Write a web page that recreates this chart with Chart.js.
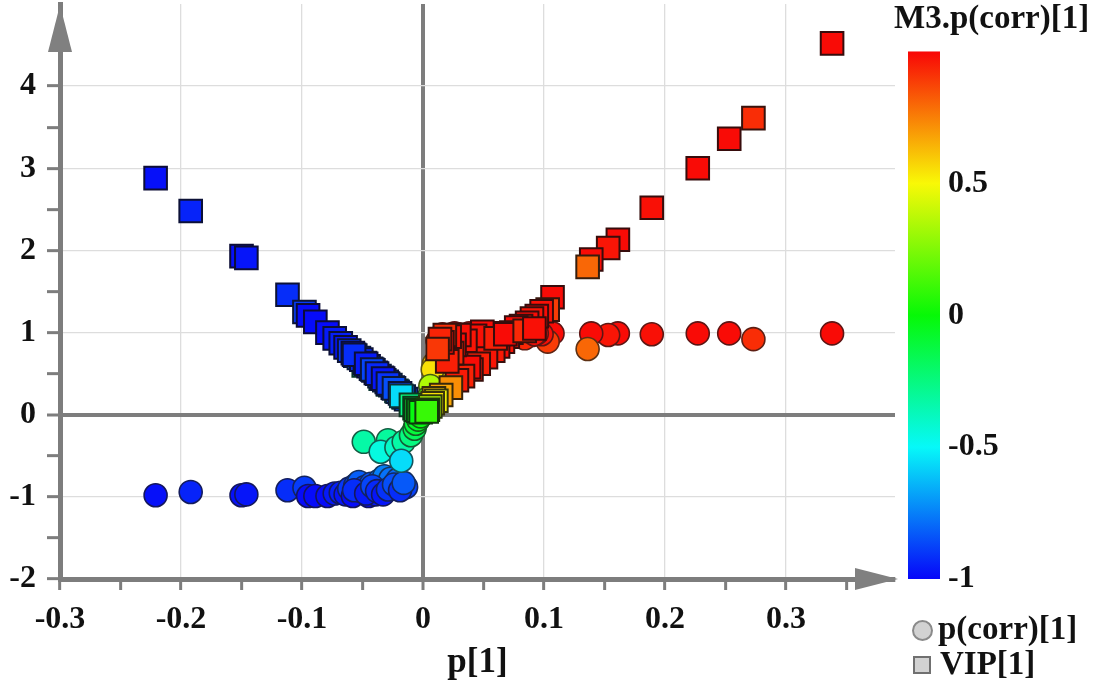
<!DOCTYPE html>
<html>
<head>
<meta charset="utf-8">
<script src="https://cdn.jsdelivr.net/npm/chart.js@4/dist/chart.umd.min.js"></script>
<style>
html,body{margin:0;padding:0;background:#fff;}
#wrap{position:relative;width:1108px;height:687px;overflow:hidden;}
#c{position:absolute;left:0;top:0;}
.t{position:absolute;font-family:"Liberation Serif","Times New Roman",serif;font-weight:bold;color:#111;white-space:nowrap;line-height:1;}
.mk{position:absolute;box-sizing:border-box;background:#d2d2d2;}
</style>
</head>
<body>
<div id="wrap">
<canvas id="c" width="1108" height="687"></canvas>
<div class="t" id="cbTitle" style="left:894px;top:1px;font-size:33px;">M3.p(corr)[1]</div>
<div class="mk" style="left:912px;top:620px;width:21px;height:21px;border-radius:50%;border:2px solid #8a8a8a;"></div>
<div class="t" style="left:938px;top:612px;font-size:33px;">p(corr)[1]</div>
<div class="mk" style="left:913px;top:656px;width:18px;height:18px;border:2px solid #707070;"></div>
<div class="t" style="left:940px;top:647px;font-size:33px;">VIP[1]</div>
</div>
<script>
// ---- data: one entry per variable (p[1], p(corr)[1], VIP[1]) ----
const pLoad = [
 -0.049,-0.029,-0.035,-0.022,-0.016,
 -0.221,-0.192,-0.150,-0.146,-0.112,-0.098,-0.095,-0.089,-0.079,-0.073,
 -0.068,-0.064,-0.061,-0.058,-0.056,-0.053,-0.051,-0.048,-0.045,-0.043,
 -0.041,-0.039,-0.036,-0.034,-0.032,-0.030,-0.027,-0.025,-0.021,-0.014,
 -0.057,-0.047,-0.042,-0.038,-0.033,-0.029,-0.024,-0.019,-0.016,
 -0.018,
 -0.010,-0.007,-0.006,-0.004,-0.002,
 0.338,0.273,0.253,0.227,0.189,0.161,0.153,0.139,0.136,0.107,0.103,
 0.098,0.094,0.090,0.086,0.081,0.077,0.073,0.070,0.066,0.062,0.058,0.055,
 0.052,0.049,0.046,0.043,0.040,0.038,0.035,0.033,0.030,0.028,0.026,0.024,
 0.022,0.020,0.018,0.016,0.014,0.012,0.060,0.068,0.084,0.092,
 0.023,0.015,0.009,0.011,0.008,0.006,0.004,0.003
];
const pCorr = [
 -0.33,-0.31,-0.45,-0.40,-0.33,
 -0.98,-0.94,-0.98,-0.97,-0.92,-0.89,-0.99,-0.99,-0.99,-0.96,
 -0.95,-0.97,-0.90,-0.99,-0.86,-0.82,-0.93,-0.88,-0.99,-0.84,
 -0.91,-0.97,-0.80,-0.93,-0.75,-0.86,-0.78,-0.90,-0.79,-0.88,
 -0.92,-0.96,-0.87,-0.93,-0.97,-0.91,-0.85,-0.92,-0.83,
 -0.56,
 -0.25,-0.17,-0.11,-0.06,-0.02,
 0.99,0.92,0.99,0.99,0.98,0.99,0.97,0.99,0.80,0.99,0.89,
 0.98,0.99,0.97,0.99,0.96,0.99,0.95,0.98,0.97,0.99,0.96,0.98,
 0.97,0.99,0.95,0.98,0.96,0.99,0.97,0.94,0.98,0.96,0.99,0.93,
 0.97,0.95,0.92,0.98,0.94,0.90,0.95,0.99,0.93,0.98,
 0.72,0.67,0.62,0.49,0.55,0.35,0.20,0.10
];
const vipVal = [
 0.60,0.37,0.44,0.29,0.21,
 2.88,2.48,1.93,1.91,1.46,1.25,1.21,1.13,1.00,0.93,
 0.87,0.82,0.78,0.75,0.72,0.69,0.67,0.63,0.59,0.56,
 0.54,0.51,0.47,0.45,0.42,0.40,0.36,0.33,0.28,0.19,
 0.73,0.62,0.55,0.50,0.44,0.38,0.32,0.26,0.22,
 0.23,
 0.12,0.08,0.06,0.05,0.03,
 4.52,3.61,3.36,3.00,2.52,2.13,2.03,1.89,1.80,1.43,1.28,
 1.26,1.20,1.17,1.12,1.08,1.06,1.00,0.95,0.89,0.83,0.78,0.99,
 0.70,1.01,0.62,0.96,0.55,0.58,0.90,0.47,0.97,0.42,0.85,0.75,
 0.95,0.65,0.97,0.88,0.92,0.80,0.93,0.98,1.02,1.05,
 0.33,0.24,0.20,0.17,0.14,0.10,0.06,0.04
];

// ---- axes / ticks ----
const xTickMarks  = [-0.3,-0.25,-0.2,-0.15,-0.1,-0.05,0,0.05,0.1,0.15,0.2,0.25,0.3,0.35];
const xTickValues = [-0.3,-0.2,-0.1,0,0.1,0.2,0.3];
const xTickLabels = ['-0.3','-0.2','-0.1','0','0.1','0.2','0.3'];
const yTickMarks  = [-2,-1.5,-1,-0.5,0,0.5,1,1.5,2,2.5,3,3.5,4];
const yTickValues = [-2,-1,0,1,2,3,4];
const yTickLabels = ['-2','-1','0','1','2','3','4'];
const cbTickValues = [-1,-0.5,0,0.5];
const cbTickLabels = ['-1','-0.5','0','0.5'];
const cbStops = [-1,-0.5,0,0.5,1];

const xTitle = 'p[1]';
const seriesNames = ['VIP[1]','p(corr)[1]'];

const AXIS = '#7d7d7d';
const GRID = '#dddddd';
const FONT = '"Liberation Serif","Times New Roman",serif';

function hueFor(v){ return (1 - v) * 120; }
function colorFor(v){ return 'hsl(' + hueFor(v).toFixed(1) + ',95%,50%)'; }
function edgeFor(v, l){ return 'hsl(' + hueFor(v).toFixed(1) + ',65%,' + l + '%)'; }
function near(a,b){ return Math.abs(a-b) < 1e-6; }
function lab(vals, labels, v){ const i = vals.findIndex(t => near(t, v)); return i >= 0 ? labels[i] : ''; }

const squares = pLoad.map((x,i) => ({x: x, y: vipVal[i]}));
const circles = pLoad.map((x,i) => ({x: x, y: pCorr[i]}));

const decor = {
  id: 'decor',
  afterDraw(chart){
    const {ctx, chartArea: a, scales} = chart;
    ctx.save();
    ctx.fillStyle = '#808080';
    ctx.beginPath();
    ctx.moveTo(a.left, a.top + 1);
    ctx.lineTo(a.left - 12, a.top + 48);
    ctx.lineTo(a.left + 12, a.top + 48);
    ctx.closePath(); ctx.fill();
    ctx.beginPath();
    ctx.moveTo(a.right + 3, a.bottom);
    ctx.lineTo(a.right - 40, a.bottom - 11);
    ctx.lineTo(a.right - 40, a.bottom + 11);
    ctx.closePath(); ctx.fill();
    const cb = scales.cb;
    const yTop = cb.getPixelForValue(1), yBot = cb.getPixelForValue(-1);
    const g = ctx.createLinearGradient(0, yBot, 0, yTop);
    cbStops.forEach(v => g.addColorStop((v + 1) / 2, colorFor(v)));
    ctx.fillStyle = g;
    ctx.fillRect(cb.left + 13, yTop, 32, yBot - yTop);
    ctx.restore();
  }
};

new Chart(document.getElementById('c'), {
  type: 'scatter',
  data: {
    datasets: [
      {
        label: seriesNames[0], data: squares, order: 0,
        pointStyle: 'rect', pointRadius: 16, pointHoverRadius: 16,
        backgroundColor: c => colorFor(pCorr[c.dataIndex]),
        borderColor: c => edgeFor(pCorr[c.dataIndex], 13),
        borderWidth: 2
      },
      {
        label: seriesNames[1], data: circles, order: 1,
        pointStyle: 'circle', pointRadius: 11.5, pointHoverRadius: 11.5,
        backgroundColor: c => colorFor(pCorr[c.dataIndex]),
        borderColor: c => edgeFor(pCorr[c.dataIndex], 22),
        borderWidth: 1.6
      }
    ]
  },
  options: {
    responsive: false, animation: false, devicePixelRatio: 1,
    layout: { autoPadding: false, padding: { top: 4, left: 0, right: 0, bottom: 0 } },
    plugins: { legend: { display: false }, tooltip: { enabled: false } },
    scales: {
      x: {
        type: 'linear', position: 'bottom', min: -0.3, max: 0.39,
        afterBuildTicks(s){ s.ticks = xTickMarks.map(v => ({ value: v })); },
        afterFit(s){ s.height = 108; s.paddingLeft = 0; s.paddingRight = 0; },
        border: { display: true, color: AXIS, width: 5 },
        grid: {
          color: c => { const v = c.tick.value; if (near(v,0)) return AXIS; if (v > -0.29 && xTickValues.some(t => near(t,v))) return GRID; return 'rgba(0,0,0,0)'; },
          lineWidth: c => near(c.tick.value,0) ? 4 : 1.3,
          tickColor: AXIS,
          tickWidth: 3, tickLength: 11, drawTicks: true
        },
        ticks: {
          autoSkip: false, maxRotation: 0, padding: 11,
          color: '#111', font: { family: FONT, size: 32, weight: 'bold' },
          callback: v => lab(xTickValues, xTickLabels, v)
        },
        title: { display: true, text: xTitle, color: '#111', font: { family: FONT, size: 35, weight: 'bold' }, padding: { top: 0, bottom: 3 } }
      },
      y: {
        type: 'linear', position: 'left', min: -2, max: 5,
        afterBuildTicks(s){ s.ticks = yTickMarks.map(v => ({ value: v })); },
        afterFit(s){ s.width = 60; s.paddingTop = 0; s.paddingBottom = 0; },
        border: { display: true, color: AXIS, width: 5 },
        grid: {
          color: c => { const v = c.tick.value; if (near(v,0)) return AXIS; if (v > -1.9 && yTickValues.some(t => near(t,v))) return GRID; return 'rgba(0,0,0,0)'; },
          lineWidth: c => near(c.tick.value,0) ? 4 : 1.3,
          tickColor: AXIS,
          tickWidth: 3, tickLength: 13, drawTicks: true
        },
        ticks: {
          autoSkip: false, padding: 11,
          color: '#111', font: { family: FONT, size: 32, weight: 'bold' },
          callback: v => lab(yTickValues, yTickLabels, v)
        }
      },
      cb: {
        type: 'linear', position: 'right', min: -1, max: 1.18,
        afterBuildTicks(s){ s.ticks = cbTickValues.map(v => ({ value: v })); },
        afterFit(s){ s.width = 213; s.paddingTop = 0; s.paddingBottom = 0; },
        border: { display: false },
        grid: { display: false, drawTicks: false },
        ticks: {
          autoSkip: false, padding: 53,
          color: '#111', font: { family: FONT, size: 32, weight: 'bold' },
          callback: v => lab(cbTickValues, cbTickLabels, v)
        }
      }
    }
  },
  plugins: [decor]
});
</script>
</body>
</html>
